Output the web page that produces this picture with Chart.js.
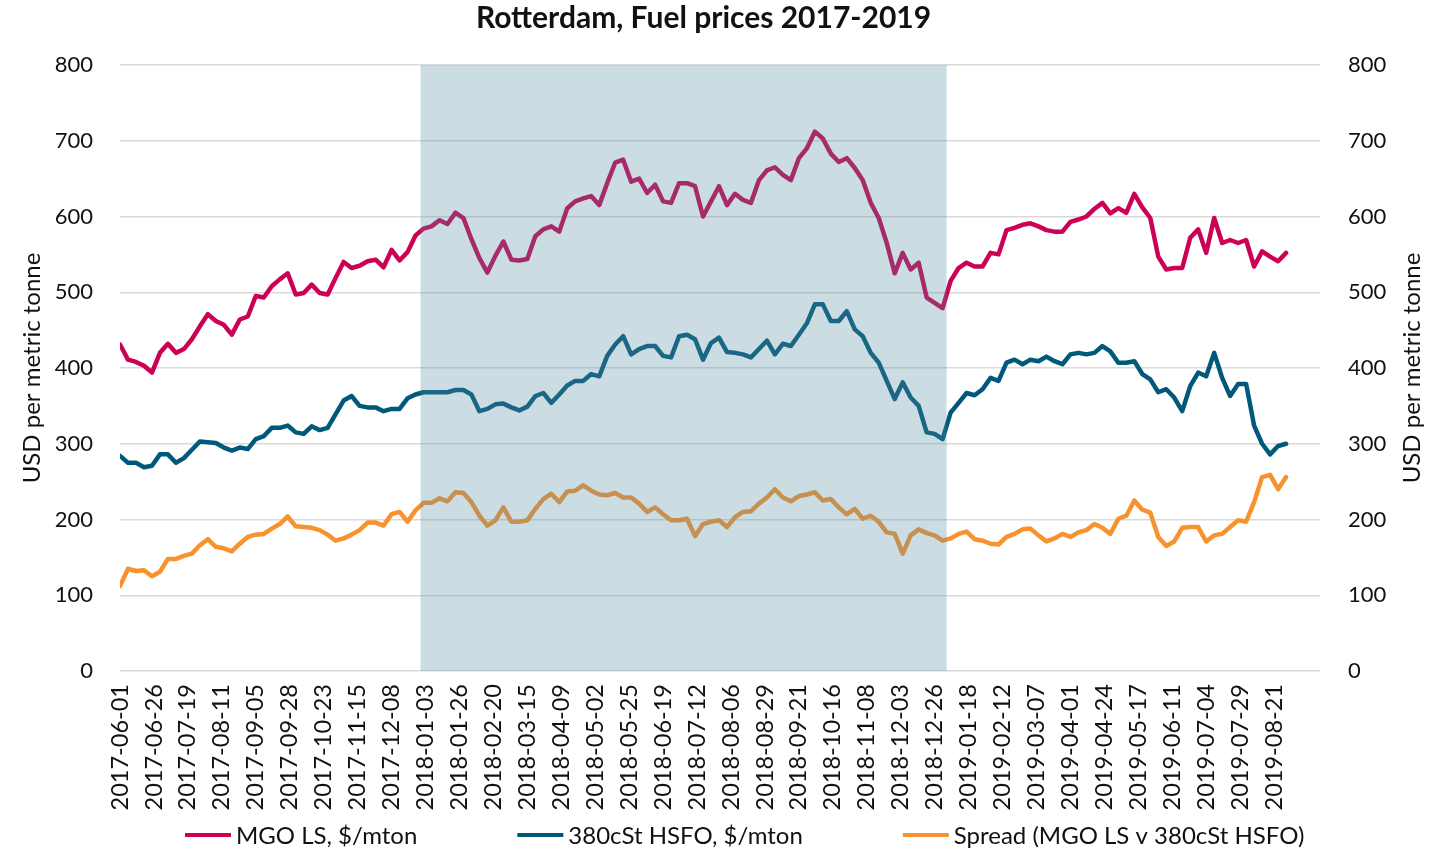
<!DOCTYPE html>
<html lang="en">
<head>
  <meta charset="UTF-8" />
  <title>Rotterdam, Fuel prices 2017-2019</title>
  <script src="https://cdn.jsdelivr.net/npm/chart.js"></script>
  <style>
    body { margin: 0; background: #fff; }
    .wrap { width: 1429px; height: 848px; }
  </style>
</head>
<body>
<div class="wrap"><canvas id="fuel"></canvas></div>

<script>
// x = trading-day index from 2017-06-01, values sampled every 4th trading day
const step = 4;
const tickEvery = 17;
const axisDays = 601;

const tickLabels = ['2017-06-01', '2017-06-26', '2017-07-19', '2017-08-11', '2017-09-05', '2017-09-28',
  '2017-10-23', '2017-11-15', '2017-12-08', '2018-01-03', '2018-01-26', '2018-02-20', '2018-03-15',
  '2018-04-09', '2018-05-02', '2018-05-25', '2018-06-19', '2018-07-12', '2018-08-06', '2018-08-29',
  '2018-09-21', '2018-10-16', '2018-11-08', '2018-12-03', '2018-12-26', '2019-01-18', '2019-02-12',
  '2019-03-07', '2019-04-01', '2019-04-24', '2019-05-17', '2019-06-11', '2019-07-04', '2019-07-29',
  '2019-08-21'];

// shaded period (2018), in trading-day index
const shadeFrom = 150.5;
const shadeTo = 414;

const mgo = [
  431, 411, 408, 403, 394, 420, 432, 420, 425, 438, 455, 471, 462, 457, 444, 464,
  468, 495, 493, 508, 517, 525, 497, 499, 510, 499, 497, 519, 540, 532, 535, 541,
  543, 533, 556, 542, 553, 575, 584, 587, 595, 590, 605, 598, 570, 545, 526, 548,
  567, 543, 542, 544, 574, 583, 587, 580, 611, 620, 624, 627, 615, 644, 671, 675,
  646, 650, 631, 642, 620, 618, 644, 644, 640, 600, 620, 640, 615, 630, 622, 618,
  648, 661, 665, 655, 648, 677, 690, 712, 703, 683, 672, 677, 664, 648, 618, 598,
  565, 525, 552, 530, 539, 493, 486, 479, 515, 532, 539, 534, 534, 552, 550, 582,
  585, 589, 591, 587, 582, 580, 580, 593, 596, 600, 610, 618, 604, 611, 605, 630,
  612, 598, 547, 530, 532, 532, 572, 583, 552, 598, 565, 569, 565, 569, 534, 554,
  547, 541, 552
];

const hsfo = [
  284, 275, 275, 269, 271, 286, 286, 275, 281, 292, 303, 302, 301, 295, 291, 295,
  293, 306, 310, 321, 321, 324, 315, 313, 323, 318, 321, 339, 357, 363, 350, 348,
  348, 343, 346, 346, 360, 365, 368, 368, 368, 368, 371, 371, 365, 343, 346, 352,
  353, 348, 344, 349, 363, 367, 354, 365, 377, 383, 383, 392, 389, 416, 431, 442,
  418, 425, 429, 429, 416, 414, 442, 444, 438, 411, 433, 440, 421, 420, 418, 414,
  425, 436, 418, 432, 429, 444, 459, 484, 484, 462, 462, 475, 451, 442, 420, 407,
  383, 359, 381, 361, 350, 315, 313, 306, 341, 354, 367, 364, 372, 387, 383, 407,
  411, 405, 411, 409, 415, 409, 405, 418, 420, 418, 420, 429, 422, 407, 407, 409,
  392, 385, 368, 372, 361, 343, 376, 394, 389, 420, 387, 363, 379, 379, 324, 300,
  286, 297, 300
];

const spread = [
  112, 135, 132, 133, 125, 131, 148, 148, 152, 155, 166, 174, 164, 162, 158, 168,
  177, 180, 181, 188, 194, 204, 191, 190, 189, 186, 180, 172, 175, 180, 186, 196,
  196, 192, 207, 210, 197, 212, 222, 222, 228, 224, 236, 235, 223, 205, 192, 199,
  216, 197, 197, 199, 214, 227, 234, 223, 237, 238, 245, 238, 233, 232, 235, 229,
  229, 221, 210, 216, 207, 199, 199, 201, 178, 194, 197, 199, 190, 203, 210, 211,
  221, 229, 240, 229, 224, 231, 233, 236, 225, 227, 216, 207, 214, 201, 205, 197,
  183, 181, 155, 179, 187, 182, 179, 172, 175, 181, 184, 174, 172, 168, 167, 177,
  181, 187, 188, 179, 171, 175, 181, 177, 183, 186, 194, 189, 181, 201, 205, 225,
  213, 209, 177, 165, 171, 189, 190, 190, 171, 179, 181, 190, 199, 197, 223, 256,
  259, 240, 256
];

const FONT = "Lato, 'Open Sans', sans-serif";
const toPoints = arr => arr.map((v, i) => ({ x: i * step, y: v }));

// shaded box, drawn over the lines like the original
const shadePlugin = {
  id: 'shade',
  afterDatasetsDraw(chart) {
    const { ctx, scales } = chart;
    const x0 = scales.x.getPixelForValue(shadeFrom);
    const x1 = scales.x.getPixelForValue(shadeTo);
    const y0 = scales.y.getPixelForValue(800);
    const y1 = scales.y.getPixelForValue(0);
    ctx.save();
    ctx.fillStyle = 'rgba(82,139,160,0.3)';
    ctx.fillRect(x0, y0, x1 - x0, y1 - y0);
    ctx.restore();
  }
};

// bottom legend + right axis title (reads bottom-to-top like the left one)
const extrasPlugin = {
  id: 'extras',
  afterDraw(chart) {
    const ctx = chart.ctx;
    ctx.save();
    ctx.font = '24px ' + FONT;
    ctx.textBaseline = 'middle';
    ctx.fillStyle = '#111';
    let x = 185;
    const y = 835;
    chart.data.datasets.forEach(ds => {
      ctx.strokeStyle = ds.borderColor;
      ctx.lineWidth = 4;
      ctx.beginPath();
      ctx.moveTo(x, y);
      ctx.lineTo(x + 46, y);
      ctx.stroke();
      ctx.fillText(ds.label, x + 51, y + 1);
      x += 51 + ctx.measureText(ds.label).width + 100;
    });

    ctx.translate(1412, chart.chartArea.top + chart.chartArea.height / 2);
    ctx.rotate(-Math.PI / 2);
    ctx.font = '24px ' + FONT;
    ctx.textAlign = 'center';
    ctx.fillText('USD per metric tonne', 0, 0);
    ctx.restore();
  }
};

new Chart(document.getElementById('fuel'), {
  type: 'line',
  data: {
    datasets: [
      { label: 'MGO LS, $/mton', data: toPoints(mgo), borderColor: '#cc0055', yAxisID: 'y' },
      { label: '380cSt HSFO, $/mton', data: toPoints(hsfo), borderColor: '#00587a', yAxisID: 'y' },
      { label: 'Spread (MGO LS v 380cSt HSFO)', data: toPoints(spread), borderColor: '#f7922e', yAxisID: 'y' }
    ]
  },
  options: {
    responsive: true,
    maintainAspectRatio: false,
    animation: false,
    // right padding shifts the title centre left, as in the original
    layout: { padding: { left: 0, right: 22, top: 0, bottom: 0 } },
    elements: {
      line: { borderWidth: 4.5, tension: 0, borderJoinStyle: 'round', borderCapStyle: 'round' },
      point: { radius: 0 }
    },
    plugins: {
      legend: { display: false },
      tooltip: { enabled: false },
      title: {
        display: true,
        text: 'Rotterdam, Fuel prices 2017-2019',
        color: '#111',
        font: { family: FONT, size: 30, weight: 'bold', lineHeight: 1.2 },
        padding: { top: 0, bottom: 29 }
      }
    },
    scales: {
      x: {
        type: 'linear',
        min: 0,
        max: axisDays,
        grid: { display: false },
        border: { display: false },
        afterBuildTicks(scale) {
          scale.ticks = tickLabels.map((_, i) => ({ value: i * tickEvery }));
        },
        afterFit(scale) { scale.height = 177; },
        ticks: {
          autoSkip: false,
          maxRotation: 90,
          minRotation: 90,
          padding: 5,
          color: '#111',
          font: { family: FONT, size: 23.5 },
          callback: (v, i) => tickLabels[i]
        }
      },
      y: {
        position: 'left',
        min: 0,
        max: 800,
        afterFit(scale) { scale.width = 120; },
        grid: { color: '#d9d9d9', lineWidth: 1.5, drawTicks: false },
        border: { display: false },
        ticks: { stepSize: 100, padding: 27, color: '#111', font: { family: FONT, size: 22 } },
        title: {
          display: true,
          text: 'USD per metric tonne',
          color: '#111',
          font: { family: FONT, size: 24 },
          padding: { top: 17.6, bottom: 0 }
        }
      },
      y2: {
        position: 'right',
        min: 0,
        max: 800,
        afterFit(scale) { scale.width = 87; },
        grid: { display: false, drawTicks: false },
        border: { display: false },
        ticks: { stepSize: 100, padding: 28, color: '#111', font: { family: FONT, size: 22 } }
      }
    }
  },
  plugins: [shadePlugin, extrasPlugin]
});
</script>
</body>
</html>
